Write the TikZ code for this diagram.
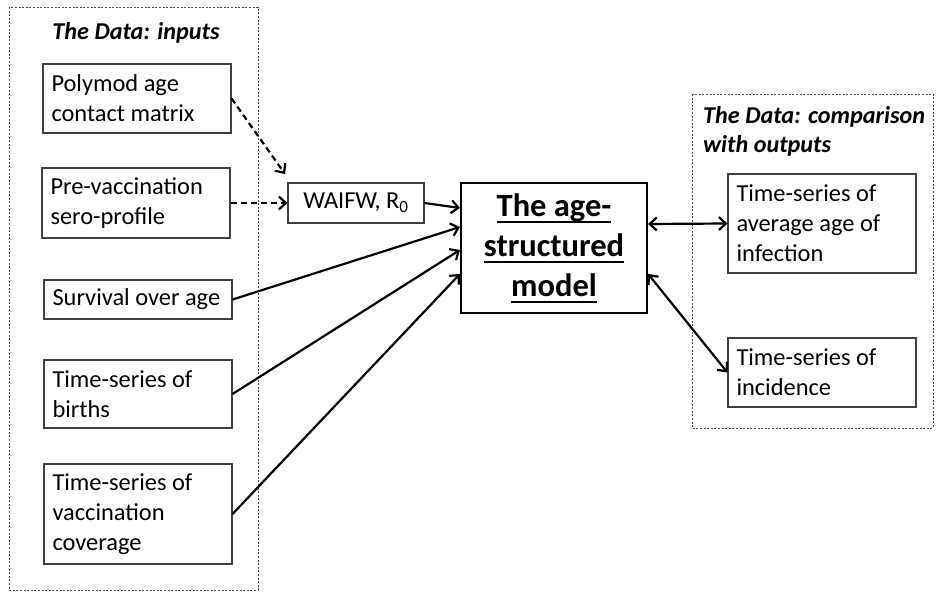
\documentclass[tikz,border=0pt]{standalone}
\usepackage{fontspec}
\setmainfont{Carlito}
\usepackage{tikz}
\usetikzlibrary{arrows.meta,positioning}
\newcommand{\modelul}[1]{\leavevmode\setbox0=\hbox{#1}\rlap{\rule[-6.5pt]{\wd0}{1.8pt}}\box0}

\begin{document}
\begin{tikzpicture}[x=1pt,y=-1pt,
    inbox/.style={draw=black!75,line width=1.1pt,inner xsep=8.5pt,inner ysep=0pt,
        text width=171pt,minimum width=188pt,align=flush left,
        font=\fontsize{24.4}{30}\selectfont},
    modelbox/.style={draw=black,line width=2.2pt,minimum width=186pt,minimum height=130pt,
        align=center,font=\bfseries\fontsize{32.5}{40}\selectfont},
    region/.style={draw=black!70,line width=0.9pt,dash pattern=on 2pt off 1.6pt},
    heading/.style={font=\bfseries\itshape\fontsize{24.2}{29}\selectfont,align=flush left,inner sep=0pt},
    feed/.style={line width=2.2pt,-{Straight Barb[length=7pt,width=13pt]}},
    link/.style={line width=2.2pt,{Straight Barb[length=7pt,width=13pt]}-{Straight Barb[length=7pt,width=13pt]}}]
    \useasboundingbox (0,0) rectangle (936,593);

    \draw[region] (9,7) rectangle (258,590);
    \draw[region] (692,94) rectangle (933,428);
    \node[heading] (intitle) at (136,33) {The Data: inputs};
    \node[heading,anchor=west] (outtitle) at (703,131) {The Data: comparison\\with outputs};

    \node[inbox,minimum height=69pt] (polymod) at (137,98.5) {Polymod age\\contact matrix};
    \node[inbox,minimum height=70pt] (prevacc) at (136,203) {Pre-vaccination\\sero-profile};
    \node[inbox,minimum height=39pt] (survival) at (138,299.5) {Survival over age};
    \node[inbox,minimum height=68pt] (births) at (138,394) {Time-series of\\births};
    \node[inbox,minimum height=100pt] (vacc) at (138,514) {Time-series of\\vaccination\\coverage};

    \node[draw=black!75,line width=1.1pt,minimum width=136pt,minimum height=40pt,
        font=\fontsize{24.4}{30}\selectfont] (waifw) at (356,203) {WAIFW, R\textsubscript{0}};
    \node[modelbox] (model) at (554,248) {\modelul{The age-}\\\modelul{structured}\\\modelul{model}};

    \node[inbox,minimum height=99pt] (avgage) at (822,223.5) {Time-series of\\average age of\\infection};
    \node[inbox,minimum height=69pt] (incid) at (822,372.5) {Time-series of\\incidence};

    \coordinate (waifwtip) at (285,174);
    \draw[feed,dash pattern=on 6pt off 4pt] (polymod.east) -- (waifwtip);
    \draw[feed,dash pattern=on 6pt off 4pt] (prevacc.east) -- (waifw.west);
    \draw[feed] (waifw.east) -- ([yshift=40pt]model.west);
    \draw[feed] (survival.east) -- ([yshift=21pt]model.west);
    \draw[feed] (births.east) -- ([yshift=-2pt]model.west);
    \draw[feed] (vacc.east) -- ([yshift=-26pt]model.west);
    \draw[link] ([yshift=24pt]model.east) -- (avgage.west);
    \draw[link] ([yshift=-26pt]model.east) -- (incid.west);
\end{tikzpicture}
\end{document}
